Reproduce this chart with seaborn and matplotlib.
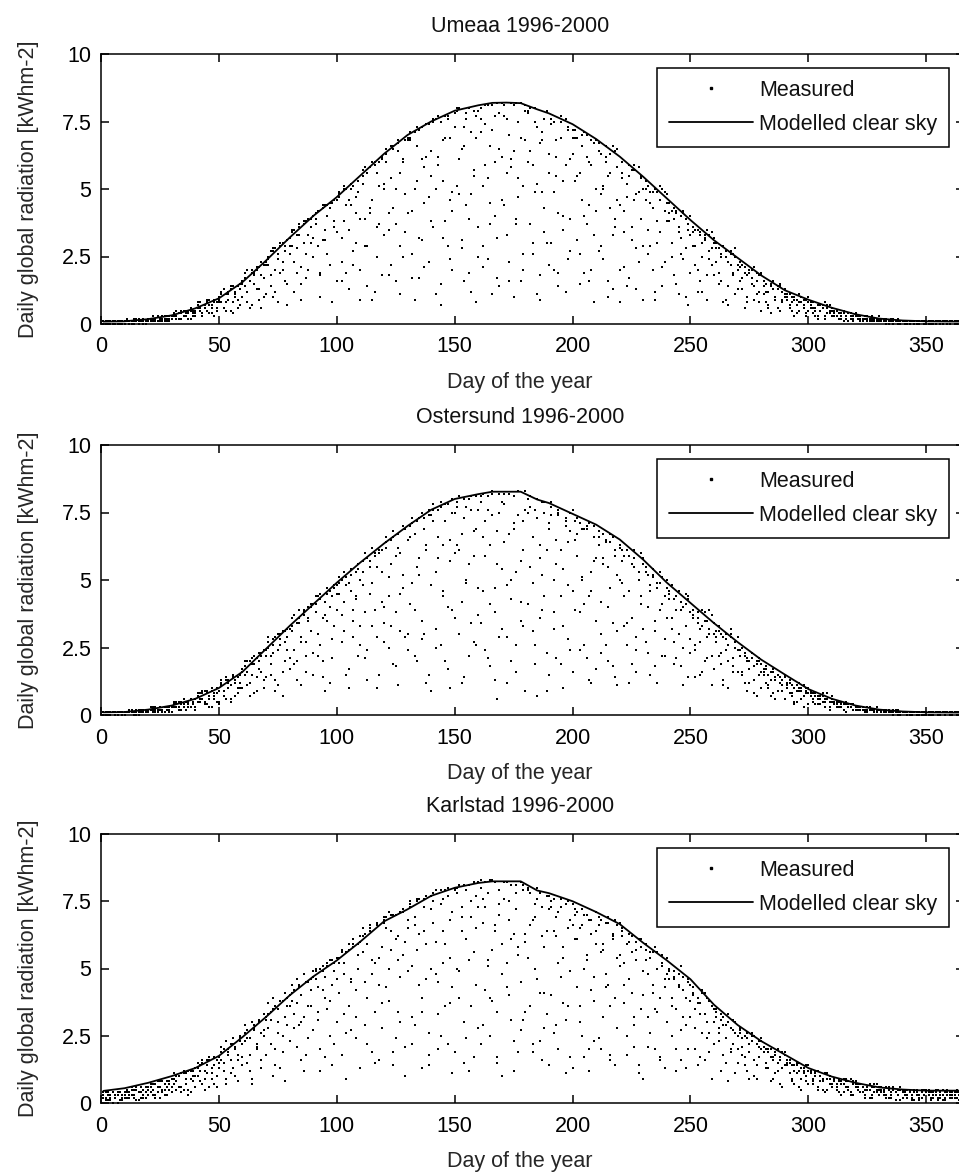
import matplotlib
matplotlib.use("Agg")
import matplotlib.pyplot as plt
from matplotlib.lines import Line2D
import pandas as pd
import seaborn as sns

# ---------------- data ----------------
titles = ["Umeaa 1996-2000", "Ostersund 1996-2000", "Karlstad 1996-2000"]
xlabel = "Day of the year"
ylabel = "Daily global radiation [kWhm-2]"
legend_labels = ["Measured", "Modelled clear sky"]
xticks = [0, 50, 100, 150, 200, 250, 300, 350]
yticks = [0, 2.5, 5, 7.5, 10]
ytick_labels = ["0", "2.5", "5", "7.5", "10"]

days = list(range(1, 366))

clear_days = [1, 10, 20, 30, 40, 50, 60, 70, 80, 90, 100, 110, 120, 130, 140, 150,
              160, 166, 172, 178, 185, 190, 200, 210, 220, 230, 240, 250, 260, 270,
              280, 290, 300, 310, 320, 330, 340, 350, 365]
umeaa_clear = [0.09, 0.10, 0.18, 0.32, 0.58, 0.95, 1.55, 2.35, 3.20, 4.00, 4.70, 5.50,
               6.30, 7.00, 7.50, 7.90, 8.10, 8.19, 8.20, 8.18, 7.95, 7.80, 7.40, 6.85,
               6.20, 5.45, 4.65, 3.85, 3.10, 2.45, 1.80, 1.25, 0.90, 0.60, 0.36, 0.20,
               0.13, 0.10, 0.09]
ostersund_clear = [0.10, 0.11, 0.20, 0.35, 0.60, 1.00, 1.60, 2.45, 3.30, 4.10, 4.90, 5.65,
                   6.35, 7.00, 7.60, 8.00, 8.18, 8.27, 8.27, 8.27, 7.98, 7.85, 7.45, 7.05,
                   6.50, 5.75, 4.90, 4.15, 3.40, 2.70, 2.05, 1.50, 0.96, 0.60, 0.35, 0.20,
                   0.13, 0.10, 0.09]
karlstad_clear = [0.45, 0.55, 0.75, 1.00, 1.30, 1.75, 2.45, 3.20, 4.00, 4.70, 5.30, 6.00,
                  6.75, 7.20, 7.70, 8.00, 8.18, 8.24, 8.24, 8.24, 7.90, 7.80, 7.50, 7.10,
                  6.65, 5.95, 5.30, 4.60, 3.65, 2.90, 2.30, 1.80, 1.30, 0.98, 0.75, 0.58,
                  0.50, 0.46, 0.46]

umeaa_a = [
    0.1,0.0,0.1,0.1,0.0,0.1,0.1,0.0,0.1,0.1, 0.1,0.1,0.0,0.1,0.2,0.1,0.1,0.1,0.0,0.2,
    0.2,0.1,0.2,0.3,0.1,0.2,0.1,0.3,0.2,0.3, 0.4,0.3,0.2,0.4,0.5,0.3,0.2,0.5,0.4,0.3,
    0.7,0.5,0.3,0.6,0.8,0.4,0.7,0.9,0.5,0.8, 1.2,0.6,1.1,0.9,1.3,0.4,1.0,1.4,0.7,1.5,
    1.7,1.2,0.6,1.9,1.5,2.0,0.9,1.8,2.2,1.1, 2.5,1.4,2.7,2.0,0.8,2.9,2.3,1.6,3.1,2.6,
    3.4,1.2,2.8,3.6,2.1,3.7,1.7,3.3,3.9,2.5, 4.1,2.9,1.0,4.3,3.5,4.4,2.2,4.5,3.8,1.6,
    4.9,3.2,5.0,1.9,4.6,5.2,2.7,4.1,5.3,0.9, 5.7,3.9,1.4,5.8,4.6,6.0,2.5,5.1,6.2,3.3,
    6.5,1.8,5.4,6.6,3.7,6.8,2.9,6.1,4.8,6.9, 7.1,4.2,0.9,6.6,7.2,3.1,5.8,7.4,2.3,6.4,
    7.5,5.0,7.7,1.5,6.8,3.8,7.6,4.6,2.0,7.8, 7.9,6.1,2.8,7.3,4.4,8.0,1.2,5.5,7.7,3.6,
    8.0,5.1,7.4,2.4,6.6,8.1,4.0,1.7,7.8,6.2, 8.1,3.3,7.0,5.8,1.0,8.2,4.7,6.9,2.6,7.9,
    7.8,6.4,3.0,7.5,5.2,1.8,7.1,4.3,7.9,2.2, 7.4,4.9,6.8,1.4,7.5,3.5,5.9,7.2,2.7,6.3,
    6.9,3.1,5.6,7.0,1.9,6.2,4.4,6.8,0.8,5.0, 6.4,4.8,2.4,6.0,5.5,6.3,1.3,3.9,6.5,4.4,
    5.6,3.4,5.2,1.7,5.7,4.6,2.8,5.8,3.9,5.0, 5.0,2.6,4.5,4.9,1.2,3.8,5.1,2.1,4.2,4.8,
    4.1,3.0,4.3,1.5,3.6,4.0,2.4,3.9,0.7,3.3, 3.4,2.2,3.5,1.6,3.0,3.3,0.9,2.7,3.4,1.8,
    2.8,1.9,2.5,0.8,2.7,1.4,2.2,2.6,1.1,2.0, 2.1,1.3,0.6,1.8,2.0,1.5,0.9,1.9,1.2,0.5,
    1.4,0.8,1.2,0.4,1.3,1.0,0.6,1.4,0.9,1.1, 1.0,0.6,0.8,0.3,0.9,0.5,1.0,0.7,0.4,0.8,
    0.7,0.4,0.6,0.2,0.5,0.7,0.3,0.6,0.4,0.5, 0.4,0.3,0.2,0.4,0.1,0.3,0.4,0.2,0.3,0.4,
    0.2,0.1,0.2,0.3,0.1,0.2,0.1,0.2,0.2,0.1, 0.1,0.1,0.2,0.0,0.1,0.1,0.1,0.0,0.1,0.1,
    0.1,0.0,0.1,0.1,0.0,0.1,0.0,0.1,0.1,0.0, 0.1,0.0,0.1,0.0,0.1,0.1,0.0,0.1,0.0,0.1,
    0.1,0.0,0.1,0.1,0.0]
umeaa_b = [
    0.0,0.1,0.1,0.0,0.1,0.0,0.1,0.1,0.0,0.1, 0.1,0.0,0.1,0.2,0.1,0.0,0.1,0.2,0.1,0.1,
    0.1,0.3,0.2,0.1,0.2,0.3,0.2,0.1,0.3,0.2, 0.3,0.5,0.4,0.2,0.3,0.5,0.4,0.6,0.3,0.5,
    0.6,0.8,0.4,0.7,0.5,0.9,0.6,0.3,0.8,1.0, 0.8,1.3,0.5,1.1,1.4,0.8,1.2,0.6,1.5,1.0,
    1.4,2.0,1.6,0.7,1.9,2.1,1.3,2.3,1.0,2.2, 2.4,1.8,2.8,1.2,2.6,3.0,2.0,2.9,1.5,3.2,
    2.9,3.5,1.9,3.3,0.9,3.8,2.6,3.9,3.0,4.0, 3.7,4.2,1.8,3.1,4.4,2.6,4.3,0.8,4.6,3.4,
    4.7,2.3,3.8,5.0,1.3,4.4,5.1,3.0,4.9,2.0, 5.5,2.9,5.6,4.3,0.9,5.9,3.6,6.0,1.8,5.2,
    6.3,4.1,2.2,6.5,5.0,6.7,1.1,6.0,3.4,6.8, 6.9,2.6,7.1,5.3,1.7,7.3,4.5,6.2,7.4,3.8,
    7.6,1.1,5.9,7.5,3.2,6.9,7.7,2.4,4.9,7.8, 8.0,4.8,6.5,1.6,7.8,3.9,7.1,5.7,0.8,7.9,
    7.6,2.1,8.1,5.4,3.7,7.2,6.0,8.2,1.4,4.6, 7.7,5.6,2.3,8.2,6.4,3.9,7.5,1.6,5.1,8.1,
    7.9,3.7,5.9,8.0,1.1,6.7,4.9,7.6,3.0,6.3, 7.6,2.0,6.2,4.1,7.7,5.3,1.2,7.3,3.9,6.9,
    7.2,5.5,2.6,6.6,4.0,7.0,1.6,5.9,3.3,6.8, 6.7,2.9,5.1,6.2,1.0,4.3,6.6,3.6,5.8,2.0,
    6.0,4.2,1.4,5.5,3.1,5.9,4.8,2.3,5.4,0.9, 5.3,3.5,4.9,2.0,5.0,3.0,4.6,1.4,4.9,3.8,
    4.5,2.5,3.9,4.2,1.1,3.2,4.1,2.8,3.7,1.9, 3.6,2.9,1.2,3.4,2.5,3.2,1.8,3.3,2.2,3.0,
    3.0,1.5,2.6,2.9,0.9,2.3,2.7,1.8,2.5,1.3, 2.3,1.7,2.1,1.0,1.9,2.0,1.4,1.6,0.8,1.8,
    1.6,1.2,0.7,1.5,1.3,0.9,1.4,0.5,1.2,1.0, 1.1,0.7,1.0,0.9,0.4,0.8,1.0,0.6,0.9,0.5,
    0.8,0.6,0.3,0.7,0.5,0.6,0.2,0.7,0.5,0.3, 0.5,0.3,0.4,0.2,0.4,0.3,0.1,0.3,0.2,0.3,
    0.3,0.2,0.1,0.2,0.3,0.1,0.2,0.2,0.1,0.2, 0.2,0.1,0.0,0.1,0.1,0.2,0.1,0.1,0.0,0.1,
    0.1,0.1,0.0,0.1,0.1,0.0,0.1,0.1,0.0,0.1, 0.0,0.1,0.1,0.0,0.1,0.0,0.1,0.1,0.0,0.1,
    0.1,0.1,0.0,0.1,0.1]
umeaa_c = [
    0.1,0.1,0.0,0.1,0.1,0.1,0.0,0.1,0.1,0.0, 0.2,0.1,0.1,0.0,0.1,0.2,0.1,0.0,0.1,0.2,
    0.2,0.2,0.1,0.3,0.2,0.1,0.3,0.2,0.1,0.2, 0.4,0.2,0.4,0.5,0.3,0.4,0.5,0.2,0.5,0.4,
    0.8,0.6,0.3,0.7,0.9,0.7,0.4,0.8,0.6,0.9, 1.1,1.3,0.8,1.2,0.5,1.4,1.1,0.9,1.3,1.6,
    1.9,0.8,1.6,2.0,1.8,1.3,2.1,0.6,1.7,2.3, 2.2,2.7,1.0,2.8,2.4,1.9,3.0,2.7,0.7,2.9,
    3.5,2.3,3.3,3.7,1.5,3.0,3.8,2.0,3.6,3.2, 3.9,4.2,1.9,4.4,3.1,4.0,4.5,0.8,3.6,4.6,
    4.8,1.6,5.1,4.4,3.5,5.0,2.2,4.7,5.3,3.9, 5.2,5.8,2.9,4.1,6.0,1.2,5.6,3.7,6.1,5.0,
    6.0,3.5,6.6,4.3,1.6,6.4,5.6,2.5,6.8,4.1, 6.8,1.7,5.0,7.3,3.2,6.1,2.1,7.4,4.7,5.5,
    3.6,7.6,6.2,0.7,5.3,7.7,2.9,6.9,4.2,7.3, 5.1,8.0,3.1,6.6,7.6,1.9,4.8,7.9,6.9,2.5,
    7.1,2.9,5.9,8.1,4.5,1.1,7.7,3.2,6.5,8.2, 4.4,7.6,1.6,6.1,8.1,3.7,5.4,8.2,2.0,6.8,
    6.0,8.0,2.6,4.9,7.3,0.9,6.8,3.4,7.9,5.6, 3.0,7.5,5.5,1.9,6.9,4.0,7.6,2.4,6.1,7.2,
    5.3,6.9,1.5,4.6,7.1,3.7,6.0,2.0,6.7,4.2, 2.7,6.3,5.0,6.6,1.6,5.6,3.3,6.4,4.6,0.8,
    5.4,2.1,4.7,5.9,3.6,5.7,1.3,4.9,5.5,2.9, 4.6,5.1,2.9,4.3,0.9,4.9,3.4,5.0,2.3,4.5,
    3.8,4.2,1.8,4.1,3.4,2.6,4.2,1.0,3.5,4.0, 2.9,3.5,2.0,3.3,1.2,3.1,3.5,2.4,2.8,3.2,
    2.3,2.8,1.6,2.9,2.5,0.7,2.6,1.9,2.8,2.2, 1.6,2.2,1.9,0.8,2.0,1.7,2.1,1.1,1.8,1.9,
    1.1,1.5,0.6,1.4,1.6,1.0,1.3,1.5,0.8,1.3, 0.9,1.1,0.5,1.0,0.7,1.1,0.8,0.9,0.3,1.0,
    0.6,0.8,0.5,0.3,0.7,0.6,0.8,0.4,0.7,0.6, 0.3,0.5,0.4,0.3,0.5,0.2,0.4,0.4,0.1,0.3,
    0.2,0.3,0.1,0.3,0.2,0.2,0.3,0.1,0.2,0.3, 0.1,0.2,0.1,0.1,0.2,0.0,0.1,0.2,0.1,0.1,
    0.0,0.1,0.1,0.1,0.0,0.1,0.1,0.1,0.0,0.1, 0.1,0.1,0.0,0.1,0.1,0.1,0.0,0.1,0.1,0.0,
    0.1,0.0,0.1,0.1,0.1]

ostersund_a = [
    0.1,0.0,0.1,0.1,0.1,0.0,0.1,0.1,0.0,0.1, 0.1,0.1,0.2,0.0,0.1,0.2,0.1,0.1,0.2,0.1,
    0.2,0.3,0.1,0.2,0.3,0.2,0.1,0.3,0.2,0.3, 0.4,0.3,0.5,0.2,0.4,0.5,0.3,0.6,0.4,0.2,
    0.7,0.5,0.8,0.4,0.9,0.6,0.3,0.8,1.0,0.5, 1.1,0.7,1.3,1.0,0.5,1.4,1.2,0.8,1.5,1.0,
    1.8,1.1,2.0,1.5,0.8,2.1,1.7,2.3,1.3,2.2, 2.5,1.9,2.8,0.9,2.4,3.0,1.6,2.7,3.2,2.1,
    3.3,2.4,1.3,3.6,2.9,3.8,2.2,3.5,4.0,1.5, 4.1,3.0,4.3,2.0,3.7,4.5,1.2,4.4,3.3,4.8,
    4.9,2.7,4.2,5.1,1.7,4.6,3.5,5.3,2.2,5.0, 5.7,3.8,1.3,5.5,4.9,5.9,2.9,6.0,4.2,3.4,
    6.4,2.5,5.6,6.6,3.8,1.1,6.0,4.7,6.9,3.0, 7.0,4.9,2.2,7.2,5.8,3.5,7.3,6.3,1.5,7.4,
    7.6,3.2,6.6,7.7,4.6,2.0,7.8,5.7,3.9,7.5, 7.9,6.1,1.2,7.3,5.0,8.0,3.4,6.8,2.6,7.6,
    8.1,4.6,7.2,2.1,6.3,8.2,3.8,0.6,7.5,5.4, 8.2,2.9,6.7,5.0,8.1,1.6,7.4,4.2,6.1,8.3,
    8.0,5.5,3.1,7.6,0.7,6.3,7.9,4.4,2.3,7.1, 7.7,3.8,6.5,7.4,1.9,5.4,7.2,2.8,6.8,4.6,
    7.2,5.9,2.4,6.9,4.1,7.0,1.3,5.3,6.6,3.5, 6.8,3.0,5.8,6.5,2.0,4.7,6.6,1.4,5.2,6.2,
    6.1,4.4,2.6,5.9,3.6,5.5,1.6,5.0,6.0,3.2, 5.3,2.3,4.8,5.2,3.5,1.2,4.9,4.1,2.8,5.0,
    4.6,3.6,1.9,4.4,3.0,4.2,2.5,4.5,1.4,3.8, 3.9,2.6,3.6,1.5,3.3,3.8,2.1,3.0,3.7,1.7,
    3.1,2.2,3.0,1.3,2.8,2.0,3.2,1.6,2.5,2.9, 2.4,1.6,2.2,0.9,2.0,2.3,1.3,1.9,2.1,1.0,
    1.7,1.2,1.5,0.7,1.6,1.3,0.9,1.4,1.1,1.5, 1.2,0.8,1.1,0.5,0.9,1.0,0.6,1.1,0.8,0.4,
    0.8,0.6,0.7,0.4,0.7,0.5,0.3,0.6,0.5,0.7, 0.5,0.4,0.3,0.5,0.2,0.4,0.3,0.4,0.2,0.3,
    0.3,0.2,0.3,0.1,0.2,0.3,0.2,0.1,0.2,0.2, 0.2,0.1,0.2,0.1,0.1,0.2,0.1,0.0,0.1,0.1,
    0.1,0.1,0.0,0.1,0.1,0.1,0.0,0.1,0.1,0.0, 0.1,0.0,0.1,0.1,0.0,0.1,0.1,0.0,0.1,0.1,
    0.1,0.1,0.0,0.1,0.1]
ostersund_b = [
    0.0,0.1,0.1,0.0,0.1,0.1,0.0,0.1,0.1,0.1, 0.1,0.2,0.1,0.1,0.0,0.1,0.2,0.1,0.1,0.2,
    0.2,0.1,0.3,0.2,0.2,0.1,0.3,0.2,0.3,0.1, 0.3,0.5,0.3,0.4,0.6,0.2,0.5,0.3,0.5,0.6,
    0.5,0.8,0.6,0.9,0.4,0.7,1.0,0.6,0.8,0.4, 1.2,0.9,0.6,1.3,1.1,1.5,0.7,1.4,1.0,1.6,
    1.5,2.0,1.2,1.9,2.2,0.9,2.0,1.6,2.4,1.4, 2.7,1.5,2.3,2.9,1.1,2.6,3.1,2.0,2.9,1.7,
    3.1,3.7,2.0,3.4,1.1,3.9,2.7,3.6,4.1,2.3, 3.8,4.4,2.6,1.4,4.2,3.5,4.6,2.1,4.7,3.9,
    4.5,5.0,3.1,4.8,1.0,5.2,3.9,4.4,5.4,2.6, 5.3,2.1,5.8,4.5,3.3,6.0,5.5,1.5,6.1,4.0,
    6.2,4.4,6.5,1.9,5.9,6.7,3.1,5.2,6.9,2.4, 6.6,7.1,3.9,5.5,7.3,2.8,6.9,1.2,7.4,4.8,
    7.2,5.3,7.6,2.6,6.3,7.8,4.0,1.0,7.5,6.0, 7.7,3.0,6.7,8.0,4.9,2.2,7.6,5.9,8.1,3.7,
    7.9,6.6,2.4,8.1,4.1,7.4,1.3,5.6,8.2,3.2, 7.8,4.8,8.2,2.0,6.9,5.3,8.3,3.5,7.2,0.9,
    7.5,8.1,4.9,2.6,7.3,5.8,3.9,7.9,6.1,1.5, 7.9,3.2,5.6,7.5,4.4,1.0,7.0,6.4,2.4,7.6,
    6.5,7.3,3.8,5.0,6.9,2.1,7.1,4.6,5.7,1.7, 6.3,4.2,6.7,2.6,5.5,6.4,3.4,6.1,1.1,5.0,
    5.7,3.3,6.1,4.6,1.9,5.8,2.9,5.3,4.1,5.6, 5.5,4.0,1.5,5.1,3.1,4.7,5.3,2.2,4.4,3.6,
    4.3,4.8,2.7,3.9,4.6,1.8,4.0,3.3,4.3,2.3, 3.6,1.4,3.4,2.7,3.9,2.0,3.5,3.2,1.1,3.0,
    2.7,3.3,1.9,2.9,2.4,1.0,3.0,2.1,2.7,1.6, 2.2,2.5,1.2,2.1,1.7,2.3,0.8,2.0,1.5,1.9,
    1.6,1.8,1.0,1.3,1.7,0.6,1.5,1.2,0.9,1.4, 1.1,1.3,0.7,1.0,0.5,1.2,0.9,0.3,1.0,0.8,
    0.9,0.5,0.8,0.6,0.4,0.7,0.6,0.8,0.3,0.5, 0.4,0.5,0.3,0.4,0.2,0.5,0.4,0.3,0.4,0.2,
    0.2,0.3,0.2,0.1,0.3,0.2,0.2,0.1,0.3,0.2, 0.1,0.2,0.1,0.2,0.1,0.0,0.1,0.2,0.1,0.1,
    0.1,0.0,0.1,0.1,0.1,0.0,0.1,0.1,0.0,0.1, 0.1,0.1,0.0,0.1,0.1,0.0,0.1,0.0,0.1,0.1,
    0.0,0.1,0.1,0.1,0.0]
ostersund_c = [
    0.1,0.1,0.0,0.1,0.1,0.0,0.1,0.1,0.1,0.0, 0.1,0.2,0.1,0.1,0.2,0.0,0.1,0.2,0.1,0.1,
    0.3,0.2,0.2,0.1,0.3,0.2,0.3,0.2,0.1,0.3, 0.5,0.4,0.2,0.5,0.3,0.5,0.4,0.6,0.5,0.3,
    0.8,0.6,0.9,0.5,0.8,0.3,0.9,0.7,0.5,0.9, 1.3,0.9,1.4,1.2,0.6,1.5,1.3,1.0,1.2,1.7,
    2.0,1.6,0.7,2.1,1.9,1.4,2.3,2.2,1.0,2.4, 2.9,2.2,2.6,1.3,3.0,2.8,0.7,3.1,2.4,3.2,
    3.6,1.9,3.4,3.9,2.7,3.7,1.6,4.0,3.1,4.1, 4.4,2.2,4.5,3.6,0.9,4.7,4.0,2.8,4.8,4.5,
    5.1,3.7,5.3,1.5,4.9,5.4,2.9,4.3,5.6,3.3, 4.8,6.0,2.4,5.7,6.2,3.9,1.0,6.1,5.3,2.7,
    6.6,5.1,3.3,6.8,1.8,6.2,4.5,7.0,2.9,6.5, 4.1,7.3,6.7,2.0,5.2,7.5,3.0,6.1,7.6,0.9,
    7.8,2.5,5.8,7.9,4.4,7.2,1.7,6.5,8.0,3.6, 6.3,8.1,4.2,1.4,7.7,5.6,8.1,2.7,6.9,4.7,
    3.4,8.2,5.9,7.6,1.8,8.3,4.7,6.8,2.9,7.9, 6.4,1.2,8.2,4.3,7.1,2.6,8.3,5.7,3.3,7.6,
    4.1,7.7,6.6,1.9,8.0,3.6,5.2,7.5,0.9,6.9, 7.4,5.0,2.1,7.6,6.1,3.3,7.3,4.8,7.5,1.6,
    3.9,6.7,7.1,5.1,2.6,6.9,4.4,1.2,7.0,5.8, 6.6,2.3,5.6,6.4,4.0,6.7,1.8,5.9,3.1,6.3,
    4.9,5.9,3.4,1.2,5.6,6.1,2.4,5.3,4.4,5.8, 2.7,5.2,4.6,5.4,1.8,4.9,3.9,5.1,2.2,4.7,
    4.5,3.2,4.3,2.1,4.6,3.9,1.1,4.1,4.4,2.8, 3.7,2.4,3.8,3.2,1.6,3.5,2.9,3.9,2.2,3.4,
    2.9,3.1,2.3,1.1,3.0,2.6,2.9,1.8,2.7,2.4, 2.2,1.5,2.3,2.0,1.2,2.1,1.8,0.7,2.0,1.6,
    1.5,1.7,1.1,1.6,0.8,1.4,1.5,1.2,1.3,0.6, 1.0,1.2,0.8,0.4,1.1,0.9,1.0,0.7,0.9,1.0,
    0.7,0.8,0.4,0.7,0.6,0.8,0.5,0.6,0.2,0.6, 0.4,0.3,0.5,0.3,0.4,0.1,0.4,0.3,0.4,0.3,
    0.2,0.3,0.2,0.2,0.1,0.3,0.2,0.2,0.1,0.2, 0.1,0.1,0.2,0.1,0.1,0.1,0.2,0.1,0.0,0.1,
    0.1,0.1,0.1,0.0,0.1,0.1,0.1,0.0,0.1,0.1, 0.0,0.1,0.1,0.1,0.1,0.0,0.1,0.1,0.1,0.0,
    0.1,0.1,0.1,0.0,0.1]

karlstad_a = [
    0.3,0.1,0.4,0.2,0.0,0.3,0.4,0.1,0.2,0.4, 0.5,0.2,0.3,0.5,0.1,0.4,0.6,0.3,0.2,0.5,
    0.6,0.3,0.7,0.4,0.2,0.8,0.5,0.3,0.7,0.6, 0.9,0.5,1.0,0.4,1.1,0.7,0.3,1.2,0.8,0.6,
    1.3,0.8,1.5,0.5,1.1,1.6,0.9,1.4,0.6,1.7, 1.9,1.2,0.7,2.0,1.6,2.2,1.0,1.8,2.3,1.4,
    2.6,1.5,2.4,0.9,2.8,2.0,3.0,1.3,2.7,3.1, 3.3,2.2,3.5,1.4,3.0,3.8,2.5,0.8,3.6,4.0,
    4.1,2.8,3.7,4.3,1.6,3.2,4.5,2.4,4.2,4.7, 4.6,3.4,1.2,4.9,3.9,5.1,2.5,4.4,5.2,3.0,
    5.4,1.8,4.8,5.6,3.6,2.7,5.8,4.2,5.9,1.3, 6.2,4.5,2.2,6.4,5.3,3.4,6.6,1.6,5.8,6.7,
    6.9,3.8,5.7,7.0,2.4,6.2,4.7,7.1,1.0,6.5, 7.3,5.1,2.9,7.5,6.3,3.9,7.6,4.6,1.8,7.2,
    7.8,6.0,3.3,7.4,5.2,7.9,2.2,6.8,4.3,8.0, 8.0,4.9,7.3,1.5,6.1,8.1,3.6,5.6,7.7,2.8,
    8.3,6.7,4.2,7.8,2.5,5.7,8.2,3.4,7.0,1.0, 8.2,5.2,7.5,3.1,6.3,8.1,1.9,4.5,7.9,6.0,
    7.9,3.6,6.8,5.0,7.6,2.3,6.2,4.1,7.7,1.4, 7.5,6.4,2.9,7.1,4.7,5.8,7.4,3.6,1.7,6.6,
    7.2,4.3,6.5,2.5,7.0,5.3,1.2,6.8,3.8,5.9, 6.9,5.6,3.2,6.7,4.4,1.8,6.2,6.8,2.8,5.1,
    6.4,3.7,5.9,4.6,6.2,2.1,5.3,1.4,6.1,4.0, 5.9,4.8,2.6,5.6,3.5,5.0,1.6,5.5,4.3,3.0,
    5.0,3.9,4.7,2.0,4.4,5.1,3.2,1.3,4.6,3.8, 4.3,2.8,3.9,1.7,4.1,3.3,2.4,3.8,0.9,3.5,
    3.4,2.3,3.1,2.9,1.5,3.3,2.0,2.7,1.1,2.5, 2.7,1.8,2.5,1.2,2.2,2.6,1.6,0.9,2.3,2.0,
    2.1,1.5,2.0,0.8,1.7,1.9,1.2,1.6,0.6,1.8, 1.6,1.1,1.4,0.7,1.5,1.2,0.5,1.3,1.0,1.4,
    1.2,0.8,1.1,0.5,1.0,0.9,0.4,1.1,0.7,0.6, 0.9,0.6,0.8,0.3,0.7,0.9,0.5,0.4,0.8,0.6,
    0.7,0.4,0.6,0.2,0.5,0.7,0.3,0.6,0.4,0.5, 0.5,0.3,0.6,0.2,0.4,0.5,0.1,0.3,0.5,0.4,
    0.4,0.2,0.5,0.3,0.1,0.4,0.2,0.5,0.3,0.4, 0.4,0.1,0.3,0.5,0.2,0.4,0.3,0.1,0.4,0.2,
    0.3,0.4,0.2,0.4,0.1]
karlstad_b = [
    0.4,0.2,0.3,0.1,0.4,0.2,0.3,0.4,0.1,0.3, 0.2,0.4,0.6,0.3,0.5,0.1,0.4,0.2,0.6,0.3,
    0.4,0.7,0.2,0.6,0.8,0.5,0.3,0.6,0.8,0.4, 0.7,1.0,0.6,1.1,0.5,0.9,1.2,0.4,1.0,1.3,
    1.0,1.4,0.7,1.2,1.6,0.6,1.3,1.7,1.0,1.5, 1.6,2.0,0.9,1.8,2.2,1.3,2.1,0.8,2.4,1.7,
    2.3,2.7,1.8,0.7,2.9,2.2,3.0,1.6,2.5,3.2, 2.8,3.4,1.0,3.6,2.6,3.8,1.9,3.2,3.9,2.3,
    3.8,4.2,2.1,4.4,3.0,1.2,4.5,3.6,4.6,2.7, 4.9,3.1,5.0,4.2,1.7,5.2,3.8,5.3,2.2,4.6,
    5.2,5.6,3.3,0.9,5.7,4.5,5.9,2.4,5.5,6.0, 5.6,6.3,3.9,6.5,1.9,5.2,6.6,4.4,2.8,6.8,
    6.5,5.0,7.0,1.4,6.1,3.4,7.1,5.5,2.1,6.8, 7.4,3.2,6.6,7.6,4.4,1.3,7.3,5.9,2.6,7.7,
    7.5,4.8,2.0,7.9,6.4,3.6,7.7,5.4,1.1,7.9, 7.8,3.9,6.9,8.1,2.4,5.3,7.5,1.7,6.5,8.2,
    8.0,2.9,7.3,5.1,8.3,3.8,6.4,1.5,7.9,4.8, 7.6,8.2,4.0,6.1,1.2,7.8,5.5,2.7,8.1,3.4,
    8.0,6.6,2.2,7.4,4.6,7.8,1.6,5.8,3.3,7.2, 7.3,2.6,6.9,5.2,7.6,3.7,1.1,6.5,4.9,7.4,
    7.0,6.1,3.0,7.2,1.7,5.5,6.8,4.2,2.3,6.4, 6.6,2.0,5.9,4.8,6.9,3.6,6.3,1.4,5.4,6.7,
    6.2,5.2,1.8,6.0,4.1,2.9,5.7,6.1,3.5,0.9, 5.7,3.2,5.4,4.4,2.0,5.6,3.9,5.1,1.3,4.8,
    4.9,2.5,4.6,3.5,4.8,1.6,4.2,2.9,4.5,3.2, 4.0,3.5,1.4,3.7,2.6,4.1,3.0,1.9,3.6,2.2,
    3.2,2.6,3.3,1.8,2.9,0.8,2.8,2.2,3.0,1.5, 2.6,2.1,1.4,2.4,1.9,2.5,1.0,2.2,1.7,2.3,
    1.9,2.0,1.3,1.7,0.9,1.8,1.5,0.7,1.9,1.4, 1.4,1.5,0.9,1.2,1.4,0.6,1.3,1.1,0.8,1.2,
    1.1,0.9,1.2,0.6,1.0,0.8,1.1,0.5,0.9,0.7, 0.8,0.5,0.9,0.7,0.4,0.8,0.6,0.9,0.3,0.7,
    0.6,0.7,0.4,0.5,0.6,0.2,0.6,0.4,0.7,0.3, 0.4,0.5,0.3,0.6,0.2,0.5,0.4,0.3,0.6,0.2,
    0.5,0.3,0.4,0.2,0.5,0.3,0.1,0.4,0.3,0.5, 0.3,0.4,0.2,0.4,0.1,0.3,0.5,0.2,0.3,0.4,
    0.2,0.3,0.4,0.1,0.3]
karlstad_c = [
    0.2,0.4,0.1,0.3,0.4,0.2,0.0,0.4,0.3,0.2, 0.4,0.3,0.5,0.2,0.6,0.4,0.2,0.5,0.4,0.6,
    0.7,0.5,0.3,0.8,0.6,0.4,0.7,0.8,0.5,0.9, 1.1,0.8,1.0,0.6,1.2,1.1,0.5,0.9,1.2,1.0,
    1.5,1.2,1.6,0.9,1.4,1.7,1.1,0.7,1.6,1.3, 2.1,1.5,2.3,1.9,1.1,2.4,2.0,1.6,2.5,2.2,
    2.9,2.4,1.2,3.0,2.7,2.1,3.1,2.6,3.3,1.8, 3.7,3.1,3.9,2.0,3.5,1.3,3.8,4.1,2.9,3.6,
    4.4,3.3,4.6,2.9,4.0,4.8,1.8,4.5,3.6,4.9, 5.0,4.3,2.0,5.1,4.7,3.5,5.3,1.4,4.9,5.4,
    4.1,5.7,5.2,2.6,5.9,4.6,6.1,3.2,5.0,6.2, 6.5,2.9,5.9,6.6,4.8,1.5,6.7,5.4,3.7,6.9,
    4.3,7.1,6.4,1.9,7.0,5.3,3.0,7.2,6.0,4.9, 7.5,2.2,6.9,5.7,7.6,3.4,6.4,7.7,1.4,5.0,
    6.7,7.9,4.5,2.5,7.6,5.9,8.0,3.7,7.1,1.9, 5.0,8.1,6.4,3.0,7.9,1.2,6.9,8.2,4.4,7.3,
    2.2,7.6,8.2,5.3,3.9,8.3,6.6,1.7,7.4,5.9, 8.2,4.3,6.8,8.1,2.3,7.2,5.8,8.2,3.1,6.3,
    5.4,7.8,1.9,6.9,8.0,4.1,7.3,2.8,6.4,7.7, 4.0,7.6,6.2,2.0,7.3,5.4,3.1,7.5,6.8,1.3,
    6.1,7.1,3.6,6.6,5.0,7.0,2.0,6.3,4.7,7.1, 2.4,6.8,5.7,4.3,6.7,1.6,6.1,3.9,6.6,5.5,
    6.5,4.4,2.5,6.3,5.6,3.2,6.0,1.1,5.8,4.9, 5.3,2.1,5.6,4.1,5.8,3.4,1.7,5.2,4.6,5.4,
    4.6,3.6,4.9,1.2,4.3,2.7,4.7,3.9,2.0,4.4, 4.1,2.0,3.7,3.3,4.2,1.6,3.9,2.6,3.6,3.0,
    3.5,2.8,1.2,3.2,2.4,3.0,1.9,3.1,2.6,2.0, 2.8,2.4,1.7,2.6,0.9,2.3,2.5,1.4,2.1,2.4,
    2.1,1.3,1.9,2.0,1.6,1.1,2.0,1.7,1.3,1.9, 1.5,1.6,0.8,1.4,1.1,1.5,0.9,1.2,1.4,0.7,
    1.2,0.7,1.0,1.2,0.8,0.5,1.1,0.9,1.0,0.6, 0.9,0.7,0.4,0.8,0.9,0.6,0.8,0.3,0.7,0.8,
    0.5,0.7,0.6,0.3,0.6,0.5,0.2,0.7,0.5,0.6, 0.6,0.4,0.2,0.5,0.3,0.6,0.4,0.5,0.1,0.5,
    0.3,0.5,0.4,0.1,0.4,0.5,0.3,0.2,0.5,0.4, 0.5,0.2,0.4,0.3,0.5,0.2,0.1,0.4,0.5,0.3,
    0.4,0.2,0.5,0.3,0.4]

measured = [(umeaa_a, umeaa_b, umeaa_c),
            (ostersund_a, ostersund_b, ostersund_c),
            (karlstad_a, karlstad_b, karlstad_c)]
clear = [umeaa_clear, ostersund_clear, karlstad_clear]

# ---------------- style ----------------
sns.set_theme(style="ticks")
plt.rcParams.update({
    "axes.linewidth": 1.1,
    "axes.edgecolor": "black",
    "xtick.direction": "in",
    "ytick.direction": "in",
    "xtick.major.size": 6,
    "ytick.major.size": 6,
    "xtick.major.width": 1.1,
    "ytick.major.width": 1.1,
    "xtick.color": "black",
    "ytick.color": "black",
    "xtick.top": True,
    "ytick.right": True,
    "font.size": 15.5,
    "text.color": "#111111",
})
plt.rcParams["font.family"] = ["Liberation Sans", "DejaVu Sans"]

W, H = 959, 1174
fig = plt.figure(figsize=(W / 100, H / 100), dpi=100)
fig.patch.set_facecolor("white")

LEFT, RIGHT = 101, 964
panels = [(54, 324), (445, 715), (834, 1103)]

for i, (top, bottom) in enumerate(panels):
    ax = fig.add_axes([LEFT / W, 1 - bottom / H, (RIGHT - LEFT) / W, (bottom - top) / H])
    a, b, c = measured[i]
    df = pd.DataFrame({"day": days * 3, "value": a + b + c})
    sns.scatterplot(data=df, x="day", y="value", ax=ax, marker="s", s=2.6,
                    color="black", linewidth=0, legend=False)
    cdf = pd.DataFrame({"day": clear_days, "value": clear[i]})
    sns.lineplot(data=cdf, x="day", y="value", ax=ax, color="black",
                 linewidth=1.3, estimator=None, sort=True)
    ax.set_xlim(0, 366)
    ax.set_ylim(0, 10)
    ax.set_xticks(xticks)
    ax.set_xticklabels([str(t) for t in xticks])
    ax.set_yticks(yticks)
    ax.set_yticklabels(ytick_labels)
    ax.tick_params(axis="x", labelsize=15.5, pad=9)
    ax.tick_params(axis="y", labelsize=15.5, pad=7)
    ax.set_title(titles[i], fontsize=15.5, x=0.4855, pad=15.5)
    ax.set_xlabel(xlabel, fontsize=15.5)
    ax.xaxis.set_label_coords(0.4855, -0.178)
    ax.set_ylabel(ylabel, fontsize=15.5)
    ax.yaxis.set_label_coords(-0.072, 0.5)
    for sp in ax.spines.values():
        sp.set_visible(True)

    handles = [Line2D([], [], marker="s", markersize=1.6, linestyle="none",
                      color="black"),
               Line2D([], [], color="black", linewidth=1.3)]
    leg = ax.legend(handles, legend_labels, loc="upper left",
                    bbox_to_anchor=(657 / W, 1 - (top + 14) / H),
                    bbox_transform=fig.transFigure, borderaxespad=0,
                    frameon=True, fancybox=False, framealpha=1,
                    edgecolor="black", fontsize=15.5, handlelength=3.9,
                    handletextpad=0.3, borderpad=0.55, labelspacing=0.6)
    leg.get_frame().set_linewidth(1.1)

fig.savefig("out.png", dpi=100, facecolor="white")
